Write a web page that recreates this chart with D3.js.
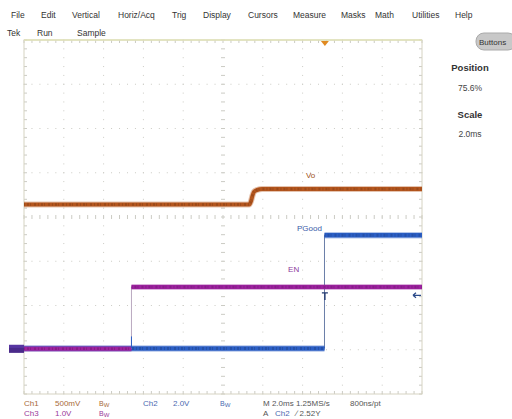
<!DOCTYPE html>
<html><head><meta charset="utf-8">
<script src="https://cdn.jsdelivr.net/npm/d3@7"></script>
<style>
html,body{margin:0;padding:0;background:#fff;}
svg{display:block;}
text{font-family:"Liberation Sans",Arial,sans-serif;}
</style></head>
<body>
<svg id="c" width="512" height="419"></svg>
<script>
// ---- data (time in ms, level in screen divisions from centre) ----
const menuItems = ["File","Edit","Vertical","Horiz/Acq","Trig","Display","Cursors","Measure","Masks","Math","Utilities","Help"];
const statusItems = ["Tek","Run","Sample"];
const voTime   = [-15.12, -3.81, -3.71, -3.64, -3.56, -3.41, -3.16, 4.88];
const voLevel  = [0.28, 0.28, 0.36, 0.48, 0.57, 0.61, 0.63, 0.63];
const enTime   = [-15.12, -9.72, -9.72, 4.88];
const enLevel  = [-2.98, -2.98, -1.58, -1.58];
const pgTime   = [-15.12, -0.02, -0.02, 4.88];
const pgLevel  = [-2.97, -2.97, -0.41, -0.41];
const traceLabels = ["Vo","PGood","EN"];
const sideLabels = ["Position","75.6%","Scale","2.0ms"];
const row1 = ["Ch1","500mV","Bw","Ch2","2.0V","Bw","M 2.0ms 1.25MS/s","800ns/pt"];
const row2 = ["Ch3","1.0V","Bw","A","Ch2","\u2215 2.52Y"];

const svg = d3.select("#c");
const L=24, R=422, T=40, B=394;
const x = d3.scaleLinear().domain([-15.12, 4.88]).range([L, R]);
const y = d3.scaleLinear().domain([-4, 4]).range([B, T]);
const xd = d3.scaleLinear().domain([0,10]).range([L,R]);

// ---- graticule ----
const g = svg.append("g");
const gridCol = "#cbcbc4";
for (let i=1;i<10;i++){
  if (i===5) continue;
  for (let j=0;j<=40;j++){
    g.append("rect").attr("x",xd(i)-0.5).attr("y",y(-4+j*0.2)-0.5).attr("width",1).attr("height",1).attr("fill",gridCol);
  }
}
for (let i=-3;i<=3;i++){
  if (i===0) continue;
  for (let j=0;j<=50;j++){
    g.append("rect").attr("x",xd(j*0.2)-0.5).attr("y",y(i)-0.5).attr("width",1).attr("height",1).attr("fill",gridCol);
  }
}
for (let j=0;j<=50;j++){
  const xx = xd(j*0.2);
  g.append("line").attr("x1",xx).attr("x2",xx).attr("y1",y(0)-2).attr("y2",y(0)+2).attr("stroke",gridCol);
  g.append("line").attr("x1",xx).attr("x2",xx).attr("y1",T).attr("y2",T+3).attr("stroke",gridCol);
  g.append("line").attr("x1",xx).attr("x2",xx).attr("y1",B-3).attr("y2",B).attr("stroke",gridCol);
}
for (let j=0;j<=40;j++){
  const yy = y(-4+j*0.2);
  g.append("line").attr("x1",xd(5)-2).attr("x2",xd(5)+2).attr("y1",yy).attr("y2",yy).attr("stroke",gridCol);
  g.append("line").attr("x1",L).attr("x2",L+3).attr("y1",yy).attr("y2",yy).attr("stroke",gridCol);
  g.append("line").attr("x1",R-3).attr("x2",R).attr("y1",yy).attr("y2",yy).attr("stroke",gridCol);
}
g.append("rect").attr("x",L).attr("y",T).attr("width",R-L).attr("height",B-T)
  .attr("fill","none").attr("stroke","#d6d3c2").attr("stroke-width",1);
g.append("line").attr("x1",L).attr("x2",R).attr("y1",T).attr("y2",T).attr("stroke","#e0e2b8").attr("stroke-width",1.5);

// ---- traces ----
function trace(ts, vs, col, w, edgeCol){
  const pts = ts.map((t,i)=>[t,vs[i]]);
  let dFlat="", dEdge="";
  for (let i=0;i<pts.length-1;i++){
    const a=pts[i], b=pts[i+1];
    const seg = "M"+x(a[0])+","+y(a[1])+"L"+x(b[0])+","+y(b[1]);
    if (Math.abs(x(b[0])-x(a[0]))<0.5) dEdge+=seg; else dFlat+=seg;
  }
  if (dEdge) svg.append("path").attr("d",dEdge).attr("stroke",edgeCol).attr("stroke-width",1).attr("fill","none");
  svg.append("path").attr("d",dFlat).attr("fill","none").attr("stroke",col).attr("stroke-opacity",0.35).attr("stroke-width",w+2).attr("stroke-linecap","butt");
  svg.append("path").attr("d",dFlat).attr("fill","none").attr("stroke",col).attr("stroke-width",w).attr("stroke-linecap","butt");
  svg.append("path").attr("d",dFlat).attr("fill","none").attr("stroke",d3.color(col).darker(0.7)).attr("stroke-width",w-1.5)
    .attr("stroke-dasharray","1,2,2,1,1,3,2,2").attr("stroke-opacity",0.6).attr("stroke-linecap","butt");
}
const voCol="#b4561e", pgCol="#2b5ec4", enCol="#9c229e";
(function(){
  const pts = voTime.map((t,i)=>[t,voLevel[i]]);
  const c = d3.line().x(d=>x(d[0])).y(d=>y(d[1])).curve(d3.curveMonotoneX);
  svg.append("path").attr("d",c(pts)).attr("fill","none").attr("stroke",voCol).attr("stroke-opacity",0.35).attr("stroke-width",6);
  svg.append("path").attr("d",c(pts)).attr("fill","none").attr("stroke",voCol).attr("stroke-width",4);
  svg.append("path").attr("d",c(pts)).attr("fill","none").attr("stroke",d3.color(voCol).darker(0.7)).attr("stroke-width",2.5)
    .attr("stroke-dasharray","1,2,2,1,1,3,2,2").attr("stroke-opacity",0.6);
})();
trace(pgTime, pgLevel, pgCol, 4.5, "#6b7fa8");
trace(enTime, enLevel, enCol, 4, "#b9a9c0");
svg.append("line").attr("x1",x(enTime[1])).attr("x2",x(enTime[1])).attr("y1",y(pgLevel[0])-12).attr("y2",y(pgLevel[0])).attr("stroke",pgCol).attr("stroke-width",1);

// ground marker at left
svg.append("rect").attr("x",9).attr("y",y(enLevel[0])-4).attr("width",15).attr("height",8).attr("fill","#4a2a8a");
svg.append("rect").attr("x",9).attr("y",y(enLevel[0])-4).attr("width",15).attr("height",3).attr("fill","#5a3aa8").attr("opacity",0.8);

// trigger marker T at PGood edge
const tx = x(0);
svg.append("path").attr("d",`M${tx-3},${y(enLevel[2])+6}L${tx+3},${y(enLevel[2])+6}M${tx},${y(enLevel[2])+6}L${tx},${y(enLevel[2])+13}`)
  .attr("stroke","#223a70").attr("stroke-width",1.4);
const ay = y(-1.77);
svg.append("path").attr("d",`M${R-1},${ay}L${R-9},${ay}M${R-9},${ay}L${R-6},${ay-2.5}M${R-9},${ay}L${R-6},${ay+2.5}`)
  .attr("stroke","#2b4a8a").attr("stroke-width",1.2).attr("fill","none");
svg.append("path").attr("d",`M${tx-4},${T+1}L${tx+4},${T+1}L${tx},${T+6}Z`).attr("fill","#e08a20");

// trace labels
svg.append("text").attr("x",x(-0.95)).attr("y",y(0.88)).text(traceLabels[0]).attr("fill","#a05020").attr("font-size",8);
svg.append("text").attr("x",x(-1.4)).attr("y",y(-0.32)).text(traceLabels[1]).attr("fill","#3a5aa8").attr("font-size",8);
svg.append("text").attr("x",x(-1.85)).attr("y",y(-1.25)).text(traceLabels[2]).attr("fill","#8a3a9a").attr("font-size",8);

// menu bar
const menuX=[11,41,72,118,172,203,248,293,341,375,412,455];
menuItems.forEach((m,i)=>svg.append("text").attr("x",menuX[i]).attr("y",18).text(m).attr("font-size",8.5).attr("fill","#333"));
const statX=[7,37,77];
statusItems.forEach((m,i)=>svg.append("text").attr("x",statX[i]).attr("y",36).text(m).attr("font-size",8.5).attr("fill","#333"));

// right panel
svg.append("rect").attr("x",476).attr("y",33).attr("width",40).attr("height",17).attr("rx",8).attr("fill","#c8c8c8").attr("stroke","#aaa");
svg.append("text").attr("x",479).attr("y",45).text("Buttons").attr("font-size",8).attr("fill","#333");
svg.append("text").attr("x",470).attr("y",71).attr("text-anchor","middle").text(sideLabels[0]).attr("font-size",9.5).attr("font-weight","bold").attr("fill","#333");
svg.append("text").attr("x",470).attr("y",91).attr("text-anchor","middle").text(sideLabels[1]).attr("font-size",8.5).attr("fill","#444");
svg.append("text").attr("x",470).attr("y",118).attr("text-anchor","middle").text(sideLabels[2]).attr("font-size",9.5).attr("font-weight","bold").attr("fill","#333");
svg.append("text").attr("x",470).attr("y",137).attr("text-anchor","middle").text(sideLabels[3]).attr("font-size",8.5).attr("fill","#444");

// bottom readouts
const r1x=[24,55,99,143,173,220,263,350];
const r1c=["#a86a3a","#a86a3a","#a86a3a","#4a6ab0","#4a6ab0","#4a6ab0","#555","#555"];
row1.forEach((t,i)=>{
  if (t==="Bw") {
    svg.append("text").attr("x",r1x[i]).attr("y",406).attr("font-size",7).attr("fill",r1c[i]).text("B").append("tspan").attr("font-size",6).attr("dy",1).text("W");
  } else svg.append("text").attr("x",r1x[i]).attr("y",406).text(t).attr("font-size",8).attr("fill",r1c[i]);
});
const r2x=[24,55,99,263,275,296];
const r2c=["#9a3a9a","#9a3a9a","#9a3a9a","#555","#4a6ab0","#555"];
row2.forEach((t,i)=>{
  if (t==="Bw") {
    svg.append("text").attr("x",r2x[i]).attr("y",416).attr("font-size",7).attr("fill",r2c[i]).text("B").append("tspan").attr("font-size",6).attr("dy",1).text("W");
  } else svg.append("text").attr("x",r2x[i]).attr("y",416).text(t).attr("font-size",8).attr("fill",r2c[i]);
});
</script>
</body></html>
